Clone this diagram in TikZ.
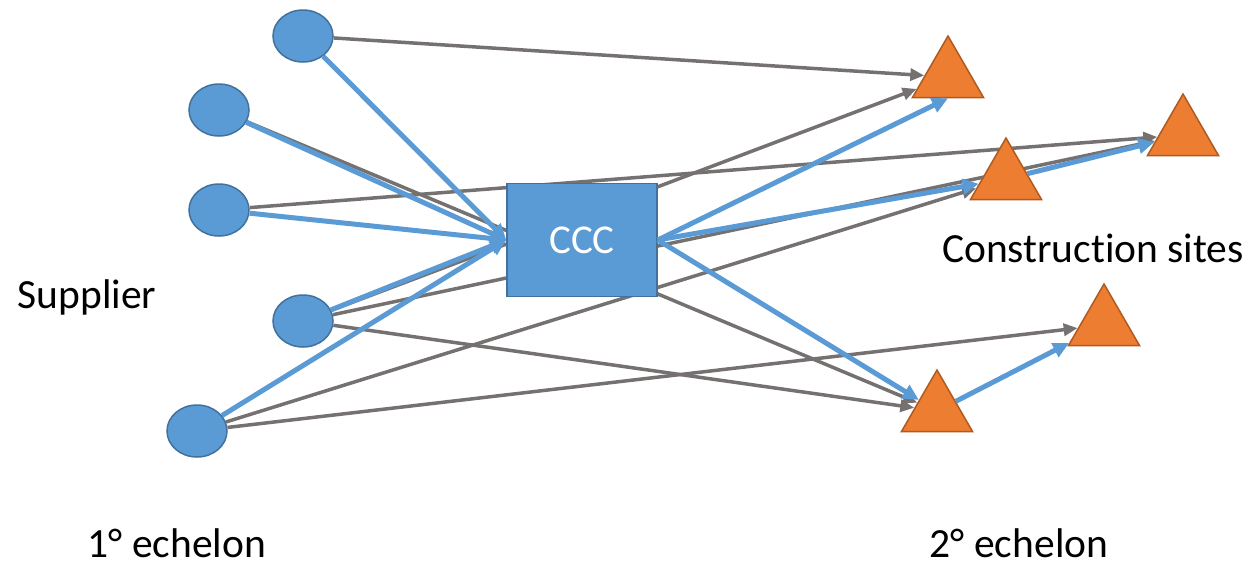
\documentclass[tikz,border=0pt]{standalone}
\usepackage{fontspec}
\setmainfont{Carlito}[Ligatures=NoCommon]
\usetikzlibrary{shapes.geometric,arrows.meta,backgrounds}
\definecolor{bluefill}{HTML}{5B9BD5}
\definecolor{blueedge}{HTML}{41719C}
\definecolor{orfill}{HTML}{ED7D31}
\definecolor{oredge}{HTML}{AE5A21}
\definecolor{grayline}{HTML}{767171}
\begin{document}
\begin{tikzpicture}[x=1pt,y=-1pt,
  supplier/.style={ellipse,draw=blueedge,fill=bluefill,line width=1.5pt,minimum width=60pt,minimum height=52pt,inner sep=0pt},
  site/.style={regular polygon,regular polygon sides=3,draw=oredge,fill=orfill,line width=1.5pt,minimum size=82pt,inner sep=0pt},
  hub/.style={rectangle,draw=blueedge,fill=bluefill,line width=1.5pt,minimum width=150pt,minimum height=113pt,text=white,font=\fontsize{41}{49}\selectfont},
  txt/.style={anchor=base,font=\fontsize{41.5}{50}\selectfont,inner sep=0pt},
  grayarrow/.style={draw=grayline,line width=3.5pt,-{Triangle[length=14pt,width=12pt]}},
  bluearrow/.style={draw=bluefill,line width=5pt,-{Triangle[length=16pt,width=15pt]}}]
\useasboundingbox (0,0) rectangle (1254,565);
% suppliers
\node[supplier] (S1) at (303,36) {};
\node[supplier] (S2) at (219,110) {};
\node[supplier] (S3) at (219,210) {};
\node[supplier] (S4) at (303,321) {};
\node[supplier] (S5) at (197,431) {};
% CCC
\node[hub] (C) at (582,240) {CCC};
% sites
\node[site] (T1) at (948,77) {};
\node[site] (T2) at (1183,135) {};
\node[site] (T3) at (1006,179) {};
\node[site] (T4) at (1104,325) {};
\node[site] (T5) at (937,411) {};
% gray connectors (behind nodes)
\begin{pgfonlayer}{background}
\draw[grayarrow] (S1) -- (T1);
\draw[grayarrow] (S2) -- (T5);
\draw[grayarrow] (S3) -- (T2);
\draw[grayarrow] (S4) -- (T1);
\draw[grayarrow] (S4) -- (T2);
\draw[grayarrow] (S4) -- (T5);
\draw[grayarrow] (S5) -- (T3);
\draw[grayarrow] (S5) -- (T4);
\end{pgfonlayer}
% blue connectors
\draw[bluearrow] (S1) -- (C.west);
\draw[bluearrow] (S2) -- (C.west);
\draw[bluearrow] (S3) -- (C.west);
\draw[bluearrow] (S4) -- (C.west);
\draw[bluearrow] (S5) -- (C.west);
\draw[bluearrow] (C.east) -- (T1.south);
\draw[bluearrow] (C.east) -- (T3);
\draw[bluearrow] (C.east) -- (T5);
\draw[bluearrow] (T3) -- (T2);
\draw[bluearrow] (T5) -- (T4);
% labels
\node[txt] (lsup) at (87,308) {Supplier};
\node[txt] (lcs) at (1093,262) {Construction sites};
\node[txt] (le1) at (177,557) {1° echelon};
\node[txt] (le2) at (1019,557) {2° echelon};
\end{tikzpicture}
\end{document}
